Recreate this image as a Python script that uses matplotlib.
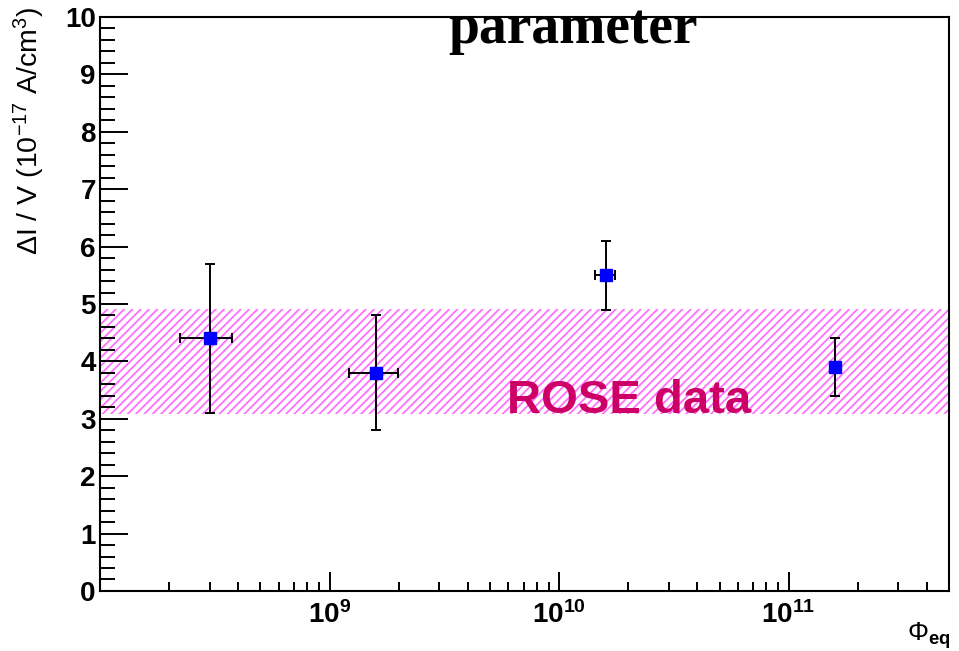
import math
import matplotlib
matplotlib.use('Agg')
import matplotlib.pyplot as plt
from matplotlib.ticker import LogLocator, FuncFormatter, NullFormatter, MultipleLocator

plt.rcParams['font.family'] = ['Liberation Sans', 'DejaVu Sans']
plt.rcParams['mathtext.fontset'] = 'custom'
plt.rcParams['mathtext.rm'] = 'Liberation Sans'
plt.rcParams['mathtext.it'] = 'Liberation Sans:italic'
plt.rcParams['mathtext.bf'] = 'Liberation Sans:bold'
plt.rcParams['hatch.linewidth'] = 1.3

# data
fluence = [3.0e8, 1.6e9, 1.6e10, 1.6e11]
fluence_err = [0.77e8, 0.38e9, 0.16e10, 0.0]
current = [4.40, 3.80, 5.50, 3.90]
current_err = [1.30, 1.00, 0.60, 0.50]
rose_band = [3.08, 4.92]
x_range = [1e8, 5e11]
y_range = [0, 10]


def decade_label(v, pos):
    # ROOT leaves the first decade at the axis edge unlabelled
    if v <= x_range[0] * 1.01:
        return ''
    return r'$\mathbf{10^{%d}}$' % round(math.log10(v))


fig = plt.figure(figsize=(9.59, 6.51), dpi=100)
ax = fig.add_axes([0.1043, 0.0922, 0.8853, 0.8817])
ax.set_xscale('log')
ax.set_xlim(x_range)
ax.set_ylim(y_range)

# ROSE band (hatched)
ax.fill_between(x_range, rose_band[0], rose_band[1], facecolor='none',
                edgecolor='#ff70ff', hatch='////', linewidth=0, zorder=1)

ax.errorbar(fluence, current, xerr=fluence_err, yerr=current_err, fmt='s',
            color='#0000ff', markersize=8, ecolor='black', elinewidth=1.4,
            capsize=3.5, capthick=1.4, zorder=3)

ax.text(0.479, 0.310, 'ROSE data', transform=ax.transAxes, color='#cc0066',
        fontsize=34, fontweight='bold', ha='left', va='baseline')

# axis ticks, ROOT style
ax.yaxis.set_major_locator(MultipleLocator(1))
ax.yaxis.set_minor_locator(MultipleLocator(0.2))
ax.xaxis.set_major_locator(LogLocator(base=10))
ax.xaxis.set_minor_locator(LogLocator(base=10, subs=range(2, 10)))
ax.xaxis.set_major_formatter(FuncFormatter(decade_label))
ax.xaxis.set_minor_formatter(NullFormatter())

ax.tick_params(axis='y', which='major', direction='in', length=20, width=1.4, pad=3, labelsize=20)
ax.tick_params(axis='y', which='minor', direction='in', length=10.5, width=1.4)
ax.tick_params(axis='x', which='major', direction='in', length=14, width=1.4, pad=7, labelsize=20)
ax.tick_params(axis='x', which='minor', direction='in', length=6.5, width=1.4)
for lab in ax.get_yticklabels():
    lab.set_fontweight('bold')
for s in ax.spines.values():
    s.set_linewidth(1.5)

ax.set_ylabel(r'$\Delta$I / V (10$^{-17}$ A/cm$^{3}$)', fontsize=20.5, loc='top')
ax.yaxis.set_label_coords(-0.062, 1.018)

fig.text(0.991, 1 - 641 / 651, r'$\Phi_{\mathbf{eq}}$', fontsize=19, ha='right', va='baseline')

fig.text(0.597, 1 - 43 / 651, 'parameter', fontsize=40, fontweight='bold',
         family=['Liberation Serif', 'DejaVu Serif'], ha='center', va='baseline')

fig.savefig('out.png', dpi=100)
